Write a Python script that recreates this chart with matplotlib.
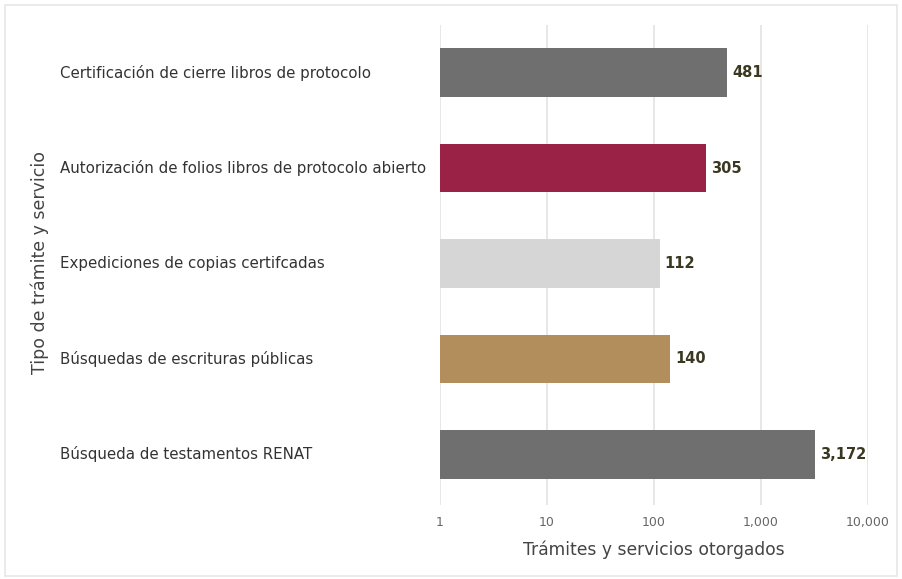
import matplotlib.pyplot as plt
import matplotlib.transforms as mtransforms
from matplotlib.patches import Rectangle
from matplotlib.ticker import FixedLocator, FixedFormatter

categories = [
    'Certificación de cierre libros de protocolo',
    'Autorización de folios libros de protocolo abierto',
    'Expediciones de copias certifcadas',
    'Búsquedas de escrituras públicas',
    'Búsqueda de testamentos RENAT',
]
values = [481, 305, 112, 140, 3172]
bar_colors = ['#6f6f6f', '#9b2247', '#d6d6d6', '#b38e5d', '#6f6f6f']
tick_values = [1, 10, 100, 1000, 10000]
tick_labels = ['1', '10', '100', '1,000', '10,000']

plt.rcParams['font.family'] = ['DejaVu Sans']

fig = plt.figure(figsize=(9.02, 5.79), dpi=100)
fig.patch.set_facecolor('white')
# light frame around the whole card
fig.patches.append(Rectangle((0.006, 0.006), 0.988, 0.986, transform=fig.transFigure,
                             fill=False, edgecolor='#e6e6e6', linewidth=1.2))

ax = fig.add_axes([0.4878, 0.128, 0.4745, 0.829])
pos = list(range(len(categories)))
ax.barh(pos, values, left=1, height=0.51, color=bar_colors, zorder=2)

ax.set_xscale('log')
ax.set_xlim(1, 10000)
ax.set_ylim(4.53, -0.5)
ax.xaxis.set_major_locator(FixedLocator(tick_values))
ax.xaxis.set_major_formatter(FixedFormatter(tick_labels))
ax.xaxis.set_minor_locator(FixedLocator([]))
ax.grid(axis='x', color='#e3e3e3', linewidth=1.2, zorder=0)
ax.tick_params(axis='x', length=0, pad=8, labelsize=9, labelcolor='#666666')
ax.tick_params(axis='y', length=0, labelleft=False)
for s in ax.spines.values():
    s.set_visible(False)

# category names sit left-aligned near the figure edge
label_tr = mtransforms.blended_transform_factory(fig.transFigure, ax.transData)
for p, v, name in zip(pos, values, categories):
    ax.text(v * 1.12, p, f'{v:,}', va='center', ha='left', fontsize=10.5,
            fontweight='heavy', color='#3b3822')
    ax.text(60 / 902, p, name, fontsize=10.8, color='#333333', va='center', ha='left',
            transform=label_tr)

ax.set_xlabel('Trámites y servicios otorgados', fontsize=12.3, color='#444444', labelpad=8)
fig.text(40 / 902, 1 - 262 / 579, 'Tipo de trámite y servicio', rotation=90, fontsize=12.5,
         color='#444444', ha='center', va='center')

fig.savefig('out.png', dpi=100, facecolor='white')
